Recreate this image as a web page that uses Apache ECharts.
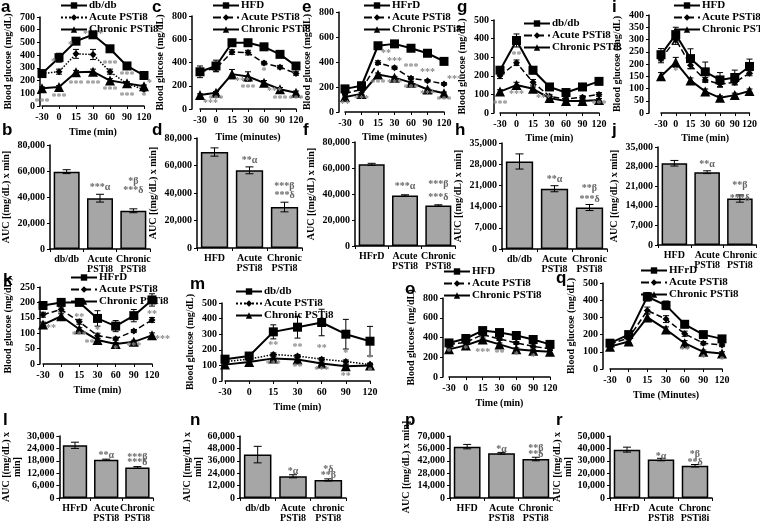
<!DOCTYPE html>
<html><head><meta charset="utf-8">
<script src="https://cdn.jsdelivr.net/npm/echarts@6/dist/echarts.min.js"></script>
<style>html,body{margin:0;padding:0;background:#fff}#c{width:760px;height:523px}</style>
</head><body><div id="c"></div>
<script>
// ---------- DATA ----------
const timeLabels = ['-30','0','15','30','60','90','120'];

// a
const aCtl = [255,380,510,560,450,315,240], aCtlE = [10,35,15,15,10,15,10];
const aAcu = [255,270,410,405,270,175,130], aAcuE = [10,20,35,40,20,15,10];
const aChr = [140,150,265,270,200,178,155], aChrE = [10,10,15,20,15,10,10];
const aStars = [[0,30,'***','c'],[1,70,'***','c'],[2,172,'***','c'],[3,172,'***','c'],[4,125,'***','c'],[5,73,'***','c'],[6,73,'*','c'],[1,345,'*','r'],[2,480,'*','r'],[3,565,'*    *','c'],[4,330,'***','c'],[5,240,'***','c'],[6,180,'*','l']];
// c
const cCtl = [320,370,570,570,535,470,370], cCtlE = [50,50,20,20,15,15,15];
const cAcu = [320,350,490,485,395,360,305], cAcuE = [20,25,20,20,15,15,15];
const cChr = [120,140,300,280,225,170,140], cChrE = [10,10,40,40,20,15,15];
const cStars = [[0,45,'***','l'],[1,86,'***','c'],[2,240,'***','l'],[3,177,'***','c'],[4,150,'***','l'],[5,86,'***','c'],[6,86,'***','c'],[4,326,'*','c']];
// e
const eCtl = [185,210,530,545,510,470,405], eCtlE = [12,12,15,12,12,12,12];
const eAcu = [150,180,395,355,270,250,225], eAcuE = [10,10,15,12,12,10,10];
const eChr = [120,145,300,275,235,180,150], eChrE = [10,10,12,10,10,10,10];
const eStars = [[0,59,'**','c'],[1,100,'***','c'],[2,467,'**','l'],[3,405,'***','c'],[4,360,'***','c'],[5,320,'***','c'],[6,261,'***','l'],[2,232,'***','c'],[3,232,'***','c'],[4,187,'***','c'],[5,139,'***','c'],[6,93,'***','c']];
// g
const gCtl = [230,390,230,140,110,140,170], gCtlE = [20,35,20,10,10,10,15];
const gAcu = [200,270,165,90,75,85,100], gAcuE = [15,15,15,10,10,8,10];
const gChr = [115,150,130,80,65,65,70], gChrE = [10,15,10,10,8,8,8];
const gStars = [[1,312,'**','c'],[1,100,'***','c'],[0,48,'***','c'],[2,77,'***','l'],[6,48,'***','c']];
// i
const iCtl = [238,320,222,168,135,145,190], iCtlE = [25,30,40,40,30,30,30];
const iAcu = [220,300,195,135,118,125,162], iAcuE = [15,20,15,10,10,10,10];
const iChr = [150,207,133,88,62,73,90], iChrE = [15,20,10,10,8,8,8];
const iStars = [[1,170,'*','c']];
// k
const kCtl = [190,200,200,148,123,157,208], kCtlE = [10,8,10,25,18,20,20];
const kAcu = [160,177,137,92,82,107,143], kAcuE = [8,8,8,8,5,5,8];
const kChr = [128,155,113,78,65,72,93], kChrE = [8,8,5,5,5,5,8];
const kStars = [[0,116,'**','l'],[2,152,'**','c'],[2,92,'***','c'],[3,108,'*','c'],[3,68,'**','r'],[4,48,'*','c'],[5,58,'***','c'],[6,162,'**','c'],[6,80,'***','l']];
// m
const mCtl = [140,160,315,345,375,300,255], mCtlE = [15,15,45,70,85,95,95];
const mAcu = [125,140,170,160,140,125,105], mAcuE = [10,10,10,10,10,10,10];
const mChr = [105,122,145,138,112,95,100], mChrE = [10,10,10,10,10,10,10];
const mStars = [[2,227,'**','c'],[3,216,'**','c'],[4,206,'**','c'],[5,174,'*','c'],[6,143,'*','c'],[2,107,'***','c'],[3,86,'**','c'],[4,69,'***','c'],[5,31,'**','c'],[6,63,'*','c']];
// o
const oCtl = [345,390,470,450,420,380,330], oCtlE = [20,20,20,20,20,20,20];
const oAcu = [330,350,430,385,345,310,285], oAcuE = [15,15,15,15,15,15,15];
const oChr = [280,320,380,330,280,265,255], oChrE = [15,15,15,15,15,15,15];
const oStars = [[0,250,'*','c'],[1,280,'*','c'],[2,250,'***','c'],[3,240,'**','c'],[4,220,'*','c'],[5,200,'*','c']];
// q
const qCtl = [150,200,420,370,260,200,175], qCtlE = [10,15,25,25,20,15,15];
const qAcu = [145,180,340,290,205,150,140], qAcuE = [10,10,20,20,15,10,10];
const qChr = [130,160,300,230,150,100,90], qChrE = [10,10,20,15,15,10,10];
const qStars = [[4,110,'**','c'],[5,60,'*','c'],[6,50,'*','c']];

// bar panels
const bCats = ['db/db','Acute\nPSTi8','Chronic\nPSTi8'];
const bVals = [59500,39100,29400], bErrs = [1500,3000,1500];
const bNotes = [[1,47000,'***α'],[2,52000,'*β'],[2,45000,'***δ']];
const dCats = ['HFD','Acute\nPSTi8','Chronic\nPSTi8'];
const dVals = [69800,56500,29800], dErrs = [3000,2500,3500];
const dNotes = [[1,64000,'**α'],[2,45000,'***β'],[2,38000,'***δ']];
const fCats = ['HFrD','Acute\nPSTi8','Chronic\nPSTi8'];
const fVals = [62800,38900,31200], fErrs = [800,500,500];
const fNotes = [[1,45500,'***α'],[2,47300,'***β'],[2,37000,'***δ']];
const hCats = ['db/db','Acute\nPSTi8','Chronic\nPSTi8'];
const hVals = [28900,19900,13700], hErrs = [2500,1000,1000];
const hNotes = [[1,23000,'**α'],[2,19900,'**β'],[2,16500,'***δ']];
const jCats = ['HFD','Acute\nPSTi8','Chronic\nPSTi8'];
const jVals = [29200,26000,16600], jErrs = [1000,500,1300];
const jNotes = [[1,28600,'**α'],[2,21200,'**β'],[2,16800,'***δ']];
const lCats = ['HFrD','Acute\nPSTi8','Chronic\nPSTi8'];
const lVals = [25500,18500,14800], lErrs = [1500,300,400];
const lNotes = [[1,20500,'**α'],[2,19500,'***β'],[2,17000,'***δ']];
const nCats = ['db/db','Acute\nPSTi8','chronic\nPSTi8'];
const nVals = [42000,21000,17500], nErrs = [8000,1500,1000];
const nNotes = [[1,26000,'*α'],[2,28000,'*δ'],[2,22000,'**β']];
const pCats = ['HFD','Acute\nPSTi8','Chronic\nPSTi8'];
const pVals = [58000,50500,44000], pErrs = [2500,1000,2000];
const pNotes = [[1,55000,'*α'],[2,56000,'**β'],[2,49000,'**δ']];
const rCats = ['HFrD','Acute\nPSTi8','Chronc\nPSTi8i'];
const rVals = [39000,31000,26000], rErrs = [2000,1000,1000];
const rNotes = [[1,33500,'*α'],[2,35000,'*β'],[2,29000,'**δ']];

// ---------- BUILD ----------
const SERIF = 'Liberation Serif';
const T = {fontFamily:SERIF, fontWeight:'bold', color:'#000'};
const option = {animation:false, grid:[], xAxis:[], yAxis:[], series:[], legend:[], graphic:[]};

function errSeries(gi, data, cap){
  return {type:'custom', xAxisIndex:gi, yAxisIndex:gi, silent:true, z:4, data:data,
    renderItem:(p,api)=>{
      const x=api.value(0), lo=api.value(1), hi=api.value(2);
      const a=api.coord([x,hi]), b=api.coord([x,lo]);
      const st={stroke:'#000', lineWidth:1};
      return {type:'group', children:[
        {type:'line', shape:{x1:a[0],y1:a[1],x2:b[0],y2:b[1]}, style:st},
        {type:'line', shape:{x1:a[0]-cap,y1:a[1],x2:a[0]+cap,y2:a[1]}, style:st},
        {type:'line', shape:{x1:b[0]-cap,y1:b[1],x2:b[0]+cap,y2:b[1]}, style:st}]};
    }};
}
function noteSeries(gi, notes, color, size){
  return {type:'custom', xAxisIndex:gi, yAxisIndex:gi, silent:true, z:6,
    data: notes.map(n=>[n[0],n[1]]),
    renderItem:(p,api)=>{
      const n=notes[p.dataIndex]; const c=api.coord([api.value(0),api.value(1)]);
      const al = n[3]==='l'?'left':(n[3]==='r'?'right':'center');
      return {type:'text', x:c[0]+(n[3]==='l'?3:(n[3]==='r'?-3:0)), y:c[1],
        style:{text:n[2], textAlign:al, textVerticalAlign:'middle', fill:color, font:'bold '+size+'px "Liberation Serif"'}};
    }};
}
function letter(ch, L){
  option.graphic.push({type:'text', left:L.x, top:L.y, style:{text:ch, font:'bold 17px "Liberation Sans"', fill:'#000'}});
}

function addLine(P){
  const gi = option.grid.length, b = P.box;
  option.grid.push({left:b.x0, top:b.yTop, width:b.x1-b.x0, height:b.y0-b.yTop});
  option.xAxis.push({type:'category', gridIndex:gi, data:timeLabels, boundaryGap:false,
    name:P.xTitle, nameLocation:'middle', nameGap:P.xGap||21, nameTextStyle:{...T, fontSize:10},
    axisLine:{lineStyle:{color:'#000', width:1.5}}, axisTick:{show:true, length:3, lineStyle:{color:'#000'}},
    axisLabel:{...T, fontSize:10, margin:6, interval:0}, splitLine:{show:false}});
  option.yAxis.push({type:'value', gridIndex:gi, min:0, max:P.ymax, interval:P.step, offset:b.x0-b.axisX,
    name:'Blood glucose (mg/dL)', nameLocation:'middle', nameRotate:90, nameGap:P.yGap||27, nameTextStyle:{...T, fontSize:10},
    axisLine:{show:true, lineStyle:{color:'#000', width:1.5}}, axisTick:{show:true, length:3, lineStyle:{color:'#000'}},
    axisLabel:{...T, fontSize:10, margin:5}, splitLine:{show:false}});
  const st = [
    {symbol:'rect', size:9, type:'solid', w:2},
    {symbol:'diamond', size:7, type:P.acuteType, w:1.5},
    {symbol:'triangle', size:10, type:'solid', w:2}];
  const names = [];
  P.series.forEach((vals,k)=>{
    const nm = P.names[k]+'#'+P.key; names.push(nm);
    option.series.push({type:'line', name:nm, xAxisIndex:gi, yAxisIndex:gi, data:vals,
      symbol:st[k].symbol, symbolSize:st[k].size, showSymbol:true, z:5,
      lineStyle:{color:'#000', width:st[k].w, type:st[k].type}, itemStyle:{color:'#000'}});
    option.series.push(errSeries(gi, vals.map((v,i)=>[i, v-P.errs[k][i], v+P.errs[k][i]]), 3));
  });
  option.series.push(noteSeries(gi, P.stars, '#888', 10));
  option.legend.push({orient:'vertical', left:P.legend.x, top:P.legend.y, padding:0, itemGap:1,
    itemWidth:26, itemHeight:8, selectedMode:false, data:names, formatter:n=>n.split('#')[0],
    textStyle:{...T, fontSize:11, padding:[0,0,0,-3]}});
  letter(P.key, P.letter);
}

function addBar(P){
  const gi = option.grid.length, b = P.box;
  option.grid.push({left:b.x0, top:b.yTop, width:b.x1-b.x0, height:b.y0-b.yTop});
  option.xAxis.push({type:'category', gridIndex:gi, data:P.cats, boundaryGap:true,
    axisLine:{lineStyle:{color:'#000', width:1.5}}, axisTick:{show:true, length:3, lineStyle:{color:'#000'}},
    axisLabel:{...T, fontSize:10, margin:5, interval:0, lineHeight:10}, splitLine:{show:false}});
  option.yAxis.push({type:'value', gridIndex:gi, min:0, max:P.ymax, interval:P.step,
    name:P.yName, nameLocation:'middle', nameRotate:90, nameGap:P.yGap||38, nameTextStyle:{...T, fontSize:10, lineHeight:11},
    axisLine:{show:true, lineStyle:{color:'#000', width:1.5}}, axisTick:{show:true, length:3, lineStyle:{color:'#000'}},
    axisLabel:{...T, fontSize:10, margin:5, formatter:v=>v.toLocaleString('en-US')}, splitLine:{show:false}});
  option.series.push({type:'bar', xAxisIndex:gi, yAxisIndex:gi, data:P.vals, barCategoryGap:'22%', z:3,
    itemStyle:{color:'#a6a6a6', borderColor:'#000', borderWidth:1.5}});
  option.series.push(errSeries(gi, P.vals.map((v,i)=>[i, v-P.errs[i], v+P.errs[i]]), 4));
  option.series.push(noteSeries(gi, P.notes, '#666', 10));
  letter(P.key, P.letter);
}

const N3 = (c)=>[c,'Acute PSTi8','Chronic PSTi8'];
addLine({key:'a', names:N3('db/db'), series:[aCtl,aAcu,aChr], errs:[aCtlE,aAcuE,aChrE], acuteType:'dotted', ymax:700, step:100, xTitle:'Time (min)', stars:aStars,
  box:{axisX:40,x0:42,x1:144,yTop:17,y0:106}, legend:{x:60,y:0}, letter:{x:1,y:-1}});
addLine({key:'c', names:N3('HFD'), series:[cCtl,cAcu,cChr], errs:[cCtlE,cAcuE,cChrE], acuteType:'dashed', ymax:800, step:200, xTitle:'Time (minutes)', xGap:23, stars:cStars,
  box:{axisX:192,x0:200,x1:296,yTop:16,y0:109}, legend:{x:212,y:0}, letter:{x:152,y:-1}});
addLine({key:'e', names:N3('HFrD'), series:[eCtl,eAcu,eChr], errs:[eCtlE,eAcuE,eChrE], acuteType:'dashed', ymax:800, step:200, xTitle:'Time (minutes)', xGap:20, stars:eStars,
  box:{axisX:339,x0:345,x1:444,yTop:12,y0:112}, legend:{x:363,y:0}, letter:{x:302,y:-1}});
addLine({key:'g', names:N3('db/db'), series:[gCtl,gAcu,gChr], errs:[gCtlE,gAcuE,gChrE], acuteType:'dashed', ymax:500, step:100, xTitle:'Time (min)', xGap:20, stars:gStars,
  box:{axisX:494,x0:500,x1:599,yTop:20,y0:113}, legend:{x:523,y:18}, letter:{x:457,y:-1}});
addLine({key:'i', names:N3('HFD'), series:[iCtl,iAcu,iChr], errs:[iCtlE,iAcuE,iChrE], acuteType:'dashed', ymax:400, step:50, xTitle:'Time (min)', xGap:20, stars:iStars,
  box:{axisX:649,x0:661,x1:752,yTop:15,y0:113}, legend:{x:673,y:0}, letter:{x:612,y:-1}});

const AUC = 'AUC [(mg/dL) x min]';
addBar({key:'b', cats:bCats, vals:bVals, errs:bErrs, notes:bNotes, ymax:80000, step:20000, yName:AUC, box:{x0:48,x1:150,yTop:145,y0:249}, letter:{x:2,y:122}});
addBar({key:'d', cats:dCats, vals:dVals, errs:dErrs, notes:dNotes, ymax:80000, step:20000, yName:AUC, box:{x0:197,x1:302,yTop:138,y0:248}, letter:{x:152,y:122}});
addBar({key:'f', cats:fCats, vals:fVals, errs:fErrs, notes:fNotes, ymax:80000, step:20000, yName:AUC, box:{x0:355,x1:455,yTop:142,y0:246}, letter:{x:303,y:122}});
addBar({key:'h', cats:hCats, vals:hVals, errs:hErrs, notes:hNotes, ymax:35000, step:7000, yName:AUC, box:{x0:502,x1:607,yTop:143,y0:249}, letter:{x:455,y:122}});
addBar({key:'j', cats:jCats, vals:jVals, errs:jErrs, notes:jNotes, ymax:35000, step:7000, yName:AUC, box:{x0:658,x1:758,yTop:147,y0:245}, letter:{x:612,y:122}});

addLine({key:'k', names:N3('HFrD'), series:[kCtl,kAcu,kChr], errs:[kCtlE,kAcuE,kChrE], acuteType:'dashed', ymax:250, step:50, xTitle:'Time (min)', stars:kStars,
  box:{axisX:40,x0:43,x1:152,yTop:287,y0:364}, legend:{x:70,y:272}, letter:{x:3,y:272}});
addLine({key:'m', names:N3('db/db'), series:[mCtl,mAcu,mChr], errs:[mCtlE,mAcuE,mChrE], acuteType:'dotted', ymax:500, step:100, xTitle:'Time (min)', stars:mStars,
  box:{axisX:222,x0:225,x1:370,yTop:303,y0:381}, legend:{x:235,y:286}, letter:{x:190,y:276}});
addLine({key:'o', names:N3('HFD'), series:[oCtl,oAcu,oChr], errs:[oCtlE,oAcuE,oChrE], acuteType:'dashed', ymax:800, step:200, xTitle:'Time (min)', stars:oStars,
  box:{axisX:443,x0:449,x1:550,yTop:298,y0:377}, legend:{x:443,y:266}, letter:{x:405,y:281}});
addLine({key:'q', names:N3('HFrD'), series:[qCtl,qAcu,qChr], errs:[qCtlE,qAcuE,qChrE], acuteType:'dashed', ymax:500, step:100, xTitle:'Time (Minutes)', stars:qStars,
  box:{axisX:603,x0:610,x1:722,yTop:283,y0:369}, legend:{x:640,y:265}, letter:{x:556,y:270}});

const AUC2 = 'AUC [(mg/dL) x\nmin]';
addBar({key:'l', cats:lCats, vals:lVals, errs:lErrs, notes:lNotes, ymax:30000, step:6000, yName:AUC2, yGap:34, box:{x0:52,x1:153,yTop:436,y0:507}, letter:{x:3,y:412}});
addBar({key:'n', cats:nCats, vals:nVals, errs:nErrs, notes:nNotes, ymax:60000, step:12000, yName:AUC2, yGap:34, box:{x0:240,x1:346,yTop:436,y0:507}, letter:{x:190,y:412}});
addBar({key:'p', cats:pCats, vals:pVals, errs:pErrs, notes:pNotes, ymax:70000, step:14000, yName:AUC, box:{x0:450,x1:553,yTop:436,y0:507}, letter:{x:405,y:412}});
addBar({key:'r', cats:rCats, vals:rVals, errs:rErrs, notes:rNotes, ymax:50000, step:10000, yName:AUC2, yGap:34, box:{x0:610,x1:712,yTop:436,y0:507}, letter:{x:556,y:412}});

const chart = echarts.init(document.getElementById('c'), null, {renderer:'canvas'});
chart.setOption(option);
</script>
</body></html>
